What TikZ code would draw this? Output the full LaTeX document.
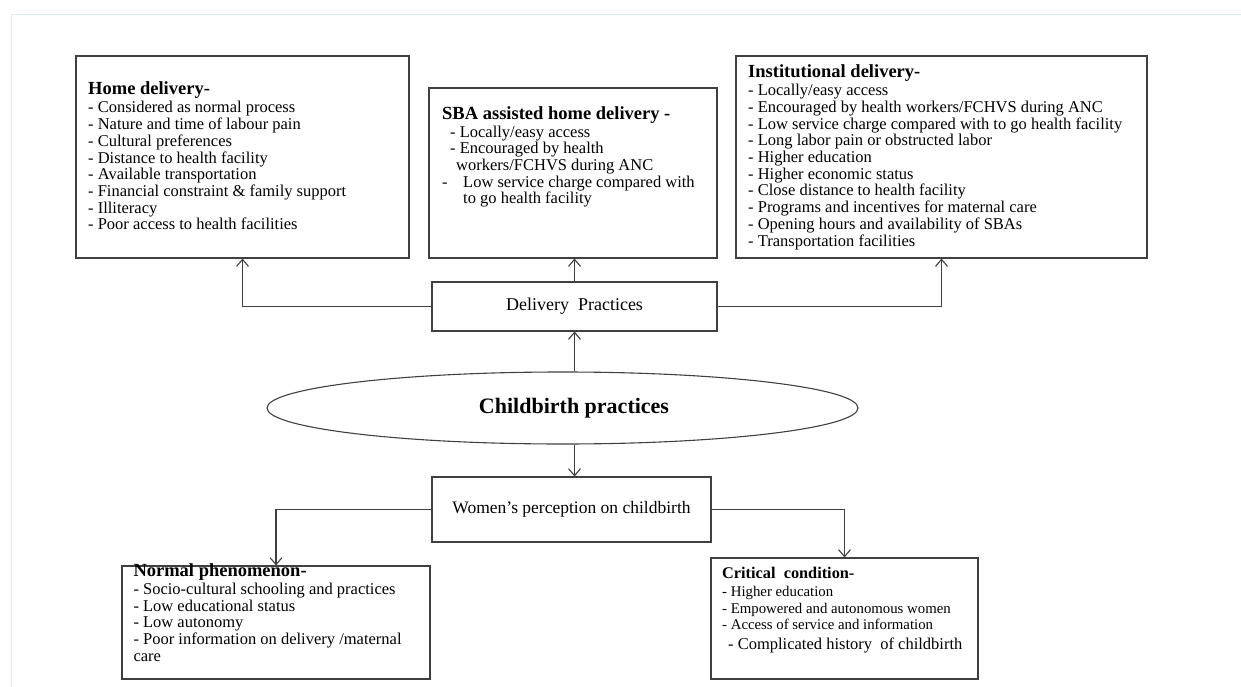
\documentclass[tikz,border=0pt]{standalone}
\usepackage{fontspec}
\setmainfont{Liberation Serif}
\usetikzlibrary{shapes,arrows.meta,positioning,calc}
\definecolor{framecol}{HTML}{D6EEF8}
\definecolor{linecol}{HTML}{404040}
\newcommand{\hd}[1]{{\fontsize{18.5}{19}\selectfont\bfseries #1}}

\begin{document}
\begin{tikzpicture}[x=1pt,y=-1pt,
    >={Straight Barb[length=7pt,width=12pt]},
    box/.style={rectangle,draw=linecol,line width=1.1pt,inner sep=0pt},
    txt/.style={align=left,inner sep=0pt,anchor=base west,font=\fontsize{16.5}{16.7}\selectfont},
    link/.style={->,draw=linecol,line width=1.1pt}]
    \useasboundingbox (0,0) rectangle (1241,687);

    % Frame
    \draw[framecol,line width=1pt] (11,687) -- (11,15) -- (1241,15);

    % Delivery types (text placed at baseline of last line)
    \node[box,minimum width=333pt,minimum height=202pt] (home) at (242.5,157) {};
    \node[txt] (hometxt) at (88,229.8) {\hd{Home delivery-}\\[1.3pt]
        - Considered as normal process\\
        - Nature and time of labour pain\\
        - Cultural preferences\\
        - Distance to health facility\\
        - Available transportation\\
        - Financial constraint \& family support\\
        - Illiteracy\\
        - Poor access to health facilities};

    \node[box,minimum width=288pt,minimum height=170pt] (sba) at (573,173) {};
    \node[txt] (sbatxt) at (442,204) {\hd{SBA assisted home delivery -}\\[0.7pt]
        \hspace*{8pt}- Locally/easy access\\
        \hspace*{8pt}- Encouraged by health\\
        \hspace*{14pt}workers/FCHVS during ANC\\
        \makebox[21pt][l]{-}Low service charge compared with\\
        \hspace*{21pt}to go health facility};

    \node[box,minimum width=411pt,minimum height=202pt] (inst) at (941.5,157) {};
    \node[txt] (insttxt) at (748,246) {\hd{Institutional delivery-}\\[1.6pt]
        - Locally/easy access\\
        - Encouraged by health workers/FCHVS during ANC\\
        - Low service charge compared with to go health facility\\
        - Long labor pain or obstructed labor\\
        - Higher education\\
        - Higher economic status\\
        - Close distance to health facility\\
        - Programs and incentives for maternal care\\
        - Opening hours and availability of SBAs\\
        - Transportation facilities};

    % Centre
    \node[box,minimum width=285pt,minimum height=49pt,font=\fontsize{18}{20}\selectfont] (deliv) at (574.5,306.5) {Delivery\ \ Practices};
    \node[ellipse,draw=linecol,line width=1.1pt,minimum width=591pt,minimum height=72pt,inner sep=0pt] (birth) at (562.5,408) {};
    \node[font=\fontsize{22}{24}\selectfont\bfseries] (birthtxt) at (574,408) {Childbirth practices};
    \node[box,minimum width=279pt,minimum height=65pt,font=\fontsize{17.5}{20}\selectfont] (women) at (571.5,509.5) {Women's perception on childbirth};

    % Perceptions
    \node[box,minimum width=308pt,minimum height=113pt] (normal) at (276,622.5) {};
    \node[txt] (normaltxt) at (133.3,661.3) {\hd{Normal phenomenon-}\\[1.6pt]
        - Socio-cultural schooling and practices\\
        - Low educational status\\
        - Low autonomy\\
        - Poor information on delivery /maternal\\
        care};

    \node[box,minimum width=267pt,minimum height=121pt] (crit) at (844.5,618.5) {};
    \node[txt,font=\fontsize{14.8}{16.5}\selectfont] (crittxt) at (722,649.5) {{\fontsize{16.3}{17}\selectfont\bfseries Critical\ \ condition-}\\[1.2pt]
        - Higher education\\
        - Empowered and autonomous women\\
        - Access of service and information\\[3.5pt]
        \hspace*{6pt}{\fontsize{16.5}{17}\selectfont - Complicated history\ \ of childbirth}};

    % Arrows
    \draw[link] (deliv.west) -| (home.south);
    \draw[link] (deliv.north) -- (deliv.north |- sba.south);
    \draw[link] (deliv.east) -| (inst.south);
    \draw[link] (deliv.south |- birth.north) -- (deliv.south);
    \draw[link] (deliv.south |- birth.south) -- (deliv.south |- women.north);
    \draw[link] (women.west) -| (normal.north);
    \draw[link] (women.east) -| (crit.north);
\end{tikzpicture}
\end{document}
